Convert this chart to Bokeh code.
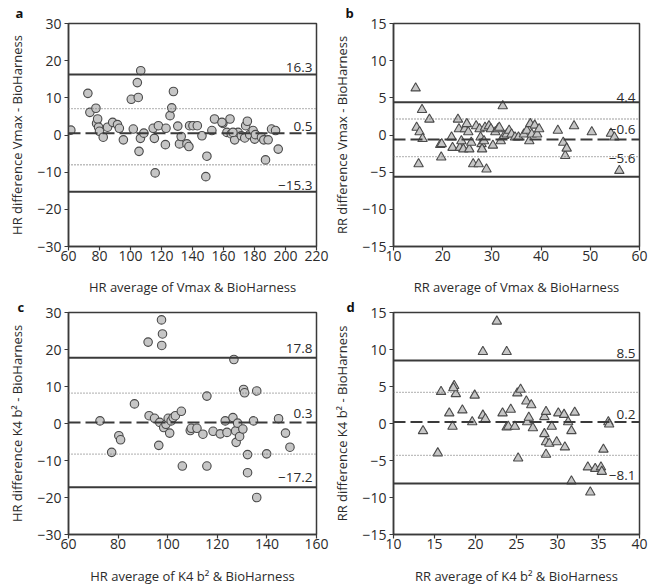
from bokeh.plotting import figure
from bokeh.models import Span, Label, Range1d, FixedTicker
from bokeh.layouts import row, column
from bokeh.embed import file_html
from bokeh.resources import INLINE

# ---------------- data ----------------
# Panel a: HR, Vmax vs BioHarness
a_x = [61.5, 72.5, 73.8, 77.7, 78.1, 78.8, 79.4, 80.0, 82.4, 85.2, 88.5, 91.6, 92.8, 95.4,
       100.5, 101.8, 104.4, 105.0, 106.6, 105.5, 106.4, 108.6, 114.6, 115.4, 118.0, 115.9,
       122.5, 122.9, 125.5, 126.6, 127.7, 130.5, 131.6, 132.7, 136.4, 137.7, 138.1, 140.3,
       143.1, 146.1, 149.3, 148.6, 152.5, 154.2, 159.6, 162.2, 164.2, 165.0, 167.2, 169.4,
       171.5, 173.7, 174.3, 175.4, 176.9, 179.1, 180.1, 180.6, 184.5, 186.0, 187.1, 188.8,
       191.0, 193.6, 195.3, 159.0, 166.1]
a_y = [1.3, 11.2, 6.1, 7.2, 3.1, 4.3, 2.1, 1.0, -0.6, 2.1, 3.4, 2.8, 1.8, -1.3,
       9.6, 1.6, 14.1, 10.1, 17.3, -4.4, -0.9, 0.5, 1.8, -0.9, 2.5, -10.2,
       -2.6, 1.8, 5.2, 7.3, 11.7, 2.4, -2.4, -0.4, -2.4, -3.1, 2.5, 2.5,
       2.5, -0.2, -5.7, -11.2, 1.2, 4.3, 3.1, 0.7, 4.3, 0.3, -1.3, 0.7,
       -0.2, -0.8, 2.5, 3.7, 0.1, 1.2, -1.1, 0.1, -0.6, -1.3, -6.7, -1.3,
       1.6, 1.2, -3.8, 3.4, 0.7]
a_lines = {"mean": 0.5, "upper": 16.3, "lower": -15.3, "ci_hi": 7.1, "ci_lo": -8.0}
a_texts = ["16.3", "0.5", "\u221215.3"]

# Panel b: RR, Vmax vs BioHarness
b_x = [14.5, 14.7, 15.3, 15.1, 15.8, 15.9, 17.3, 19.5, 19.7, 19.8, 21.8, 22.0, 23.1, 23.3,
       23.5, 23.8, 24.2, 24.5, 24.9, 25.2, 25.4, 25.8, 26.2, 26.8, 27.3, 27.5, 27.7, 27.9,
       28.0, 28.4, 28.6, 28.9, 29.4, 29.8, 30.2, 30.7, 31.2, 31.5, 31.8, 32.2, 32.5, 33.0,
       33.5, 34.0, 34.7, 35.4, 36.5, 37.1, 37.6, 37.8, 38.1, 38.7, 39.2, 39.6, 43.4, 44.5,
       44.9, 45.2, 46.7, 50.3, 54.2, 54.9, 55.9]
b_y = [6.3, 1.0, 0.4, -3.9, 3.4, -0.5, 2.1, -1.3, -3.0, -1.2, -0.3, -1.7, 2.1, 0.8,
       -1.7, -0.8, -1.9, 0.8, 1.5, 0.4, -1.9, -1.0, -3.9, 1.2, -3.9, 0.8, -0.3, -1.2,
       -1.9, -0.8, 1.0, -4.6, 1.2, 0.8, -1.4, 0.4, 0.8, 1.0, -0.8, 3.9, -0.1, 0.1,
       0.6, 0.1, -0.3, -0.3, 0.1, 0.6, -0.8, 1.5, 0.1, 1.3, 0.1, 0.8, 0.6, -1.0,
       -2.8, -1.8, 1.2, 0.4, 0.2, -0.3, -4.8]
b_lines = {"mean": -0.6, "upper": 4.4, "lower": -5.6, "ci_hi": 2.15, "ci_lo": -2.9}
b_texts = ["4.4", "\u22120.6", "\u22125.6"]

# Panel c: HR, K4 b2 vs BioHarness
c_x = [72.7, 77.4, 80.3, 81.0, 86.6, 92.1, 92.5, 94.7, 96.4, 96.8, 97.5, 97.9, 97.6, 98.4,
       99.3, 100.2, 100.8, 101.4, 102.2, 103.1, 105.5, 105.9, 109.1, 109.5, 111.8, 114.2,
       115.8, 115.8, 118.3, 121.2, 123.2, 123.9, 126.3, 126.7, 127.4, 127.6, 128.2, 129.0,
       130.3, 130.6, 131.0, 132.2, 132.2, 134.6, 135.9, 135.9, 139.9, 144.7, 147.5, 149.3]
c_y = [0.7, -7.8, -3.3, -4.4, 5.3, 22.0, 2.1, 1.4, -5.9, 0.3, 28.0, 24.2, 21.1, -1.1,
       -0.2, 1.4, -2.6, 0.7, 1.6, 2.1, 3.3, -11.5, -1.9, -1.3, -1.3, -2.9,
       7.4, -11.5, -2.1, -2.8, 0.7, -2.4, 1.6, 17.3, -2.0, -5.1, 0.1, -3.5,
       -1.5, 9.2, 8.3, -8.4, -13.3, 0.7, 8.8, -20.0, -8.2, 1.3, -2.6, -6.4]
c_lines = {"mean": 0.3, "upper": 17.8, "lower": -17.2, "ci_hi": 8.2, "ci_lo": -8.3}
c_texts = ["17.8", "0.3", "\u221217.2"]

# Panel d: RR, K4 b2 vs BioHarness
d_x = [13.6, 15.4, 15.8, 16.8, 17.2, 17.4, 17.6, 17.3, 18.4, 19.6, 19.9, 20.9, 20.9, 21.2,
       22.6, 23.3, 23.8, 23.8, 24.0, 24.3, 24.8, 25.1, 25.2, 25.5, 26.2, 26.3, 26.5, 26.8,
       27.0, 28.4, 28.4, 28.6, 28.6, 28.6, 29.0, 29.3, 29.9, 30.1, 30.8, 30.9, 31.3, 31.7,
       31.7, 32.1, 33.7, 34.0, 34.6, 35.3, 35.4, 35.6, 36.2, 36.3]
d_y = [-1.0, -4.0, 4.3, 1.4, -0.4, 5.1, 4.0, 4.8, 1.8, 0.2, 3.8, 9.7, 1.1, 0.6,
       13.8, 1.4, 9.7, -0.5, -0.4, 1.9, -0.4, 4.1, -4.7, 4.6, 3.0, 0.2, 0.8, 2.5,
       -0.6, -1.4, 0.9, 1.6, -2.5, -4.2, -2.7, -0.4, -2.5, 1.4, 1.2, -3.2, 0.2, -1.0,
       -7.8, 1.5, -5.9, -9.3, -6.1, -5.9, -6.5, -3.5, 0.2, -0.1]
d_lines = {"mean": 0.2, "upper": 8.5, "lower": -8.1, "ci_hi": 4.2, "ci_lo": -4.3}
d_texts = ["8.5", "0.2", "\u22128.1"]

FONT = "Open Sans"
TXT = "#2b2b2b"
LINE = "#3a3a3a"


def minus(v):
    s = str(int(v))
    return s.replace("-", "\u2212")


def panel(xs, ys, marker, size, xr, yr, xticks, yticks, lines, texts, text_dy, letter,
          xlabel, ylabel, width, height, bl, br, bt, bb, letter_dx, letter_standoff, xstand):
    p = figure(width=width, height=height, output_backend="svg", toolbar_location=None,
               x_range=Range1d(*xr), y_range=Range1d(*yr),
               min_border_left=bl, min_border_right=br, min_border_top=bt, min_border_bottom=bb)
    p.grid.visible = False
    p.outline_line_color = LINE
    p.outline_line_width = 1.5
    p.background_fill_color = "white"
    p.border_fill_color = "white"

    # panel letter as left-aligned title
    p.title.text = letter
    p.title.align = "left"
    p.title.offset = letter_dx
    p.title.standoff = letter_standoff
    p.title.text_font = FONT
    p.title.text_font_style = "bold"
    p.title.text_font_size = "13px"
    p.title.text_color = "#111111"

    for ax, ticks, lab in ((p.xaxis[0], xticks, xlabel), (p.yaxis[0], yticks, ylabel)):
        ax.ticker = FixedTicker(ticks=ticks)
        ax.major_label_overrides = {t: minus(t) for t in ticks}
        ax.minor_tick_line_color = None
        ax.major_tick_in = 0
        ax.major_tick_out = 4
        ax.major_tick_line_color = LINE
        ax.major_tick_line_width = 1.2
        ax.axis_line_color = LINE
        ax.axis_line_width = 1.5
        ax.major_label_text_font = FONT
        ax.major_label_text_font_size = "14px"
        ax.major_label_text_color = TXT
        ax.axis_label = lab
        ax.axis_label_text_font = FONT
        ax.axis_label_text_font_size = "13px"
        ax.axis_label_text_font_style = "normal"
        ax.axis_label_text_color = TXT
    p.xaxis[0].major_label_standoff = 0
    p.yaxis[0].major_label_standoff = 3
    p.xaxis[0].axis_label_standoff = xstand
    p.yaxis[0].axis_label_standoff = 8

    # reference lines
    p.add_layout(Span(location=lines["ci_hi"], dimension="width", line_color="#7d7d7d",
                      line_width=1.3, line_dash="1 2"))
    p.add_layout(Span(location=lines["ci_lo"], dimension="width", line_color="#7d7d7d",
                      line_width=1.3, line_dash="1 2"))
    p.add_layout(Span(location=lines["upper"], dimension="width", line_color=LINE, line_width=2))
    p.add_layout(Span(location=lines["lower"], dimension="width", line_color=LINE, line_width=2))
    p.add_layout(Span(location=lines["mean"], dimension="width", line_color=LINE,
                      line_width=2, line_dash="12 5"))

    p.scatter(xs, ys, marker=marker, size=size, fill_color="#c6c6c6",
              line_color="#4a4a4a", line_width=1.1)

    for val, txt, dy in zip((lines["upper"], lines["mean"], lines["lower"]), texts, text_dy):
        p.add_layout(Label(x=xr[1], y=val, text=txt, x_offset=-4, y_offset=dy,
                           text_align="right", text_baseline="bottom",
                           text_font=FONT, text_font_size="13.5px", text_color=TXT))
    return p


pa = panel(a_x, a_y, "circle", 8.5, (60, 220), (-30, 30), list(range(60, 221, 20)),
           list(range(-30, 31, 10)), a_lines, a_texts, (2, 2, 2), "a",
           "HR average of Vmax & BioHarness", "HR difference Vmax - BioHarness",
           330, 298, 68, 14, 23, 52, -53, 3, 14)
pb = panel(b_x, b_y, "triangle", 9.5, (10, 60), (-15, 15), list(range(10, 61, 10)),
           list(range(-15, 16, 5)), b_lines, b_texts, (0, 5, 14), "b",
           "RR average of Vmax & BioHarness", "RR difference Vmax - BioHarness",
           320, 298, 61, 11, 23, 52, -48, 3, 14)
pc = panel(c_x, c_y, "circle", 8.5, (60, 160), (-30, 30), list(range(60, 161, 20)),
           list(range(-30, 31, 10)), c_lines, c_texts, (5, 4, 5), "c",
           "HR average of K4 b\u00b2 & BioHarness", "HR difference K4 b\u00b2 - BioHarness",
           330, 289, 68, 14, 12, 53, -51, -6, 15)
pd = panel(d_x, d_y, "triangle", 9.5, (10, 40), (-15, 15), list(range(10, 41, 5)),
           list(range(-15, 16, 5)), d_lines, d_texts, (3, 3, 3), "d",
           "RR average of K4 b\u00b2 & BioHarness", "RR difference K4 b\u00b2 - BioHarness",
           320, 289, 61, 11, 12, 53, -47, -6, 15)

layout = column(row(pa, pb), row(pc, pd))
open("out.html", "w").write(file_html(layout, INLINE))
